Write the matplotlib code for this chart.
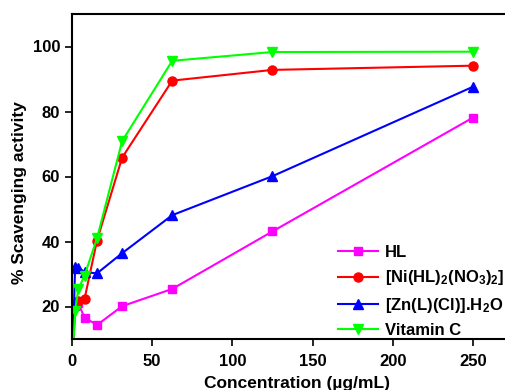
import numpy as np
import matplotlib
matplotlib.use('Agg')
import matplotlib.pyplot as plt

plt.rcParams['font.family'] = ['Liberation Sans', 'DejaVu Sans']
plt.rcParams['font.weight'] = 'bold'
plt.rcParams['mathtext.fontset'] = 'custom'
plt.rcParams['mathtext.rm'] = 'Liberation Sans:bold'
plt.rcParams['mathtext.bf'] = 'Liberation Sans:bold'
plt.rcParams['mathtext.default'] = 'bf'

# concentration (ug/mL)
conc = [0, 1.95, 3.9, 7.8, 15.6, 31.25, 62.5, 125, 250]

hl = [0, 20.3, 21.0, 16.6, 14.3, 20.1, 25.4, 43.1, 78.1]
ni = [0, 20.3, 21.8, 22.3, 40.3, 65.8, 89.5, 92.8, 94.1]
zn = [0, 32.2, 32.0, 30.6, 30.2, 36.4, 48.1, 60.1, 87.6]
vitc = [0, 18.6, 25.3, 29.5, 41.0, 70.9, 95.6, 98.3, 98.4]

labels = ['HL', '[Ni(HL)$_2$(NO$_3$)$_2$]', '[Zn(L)(Cl)].H$_2$O', 'Vitamin C']

fig = plt.figure(figsize=(5.05, 3.9), dpi=100)
ax = fig.add_axes([72 / 505, 51 / 390, 449 / 505, 325 / 390])

ax.plot(conc, hl, '-s', color='#ff00ff', lw=1.5, ms=6, label=labels[0])
ax.plot(conc, ni, '-o', color='#ff0000', lw=1.5, ms=6.5, label=labels[1])
ax.plot(conc, zn, '-^', color='#0000ff', lw=1.5, ms=7, label=labels[2])
ax.plot(conc, vitc, '-v', color='#00ff00', lw=1.5, ms=7, label=labels[3])

ax.set_xlim(0, 280)
ax.set_ylim(10, 110)
ax.set_xticks([0, 50, 100, 150, 200, 250])
ax.set_yticks([20, 40, 60, 80, 100])
ax.tick_params(direction='out', length=5, width=1.2, labelsize=12)
ax.tick_params(axis='x', pad=6)
for s in ax.spines.values():
    s.set_linewidth(1.5)

ax.set_xlabel('Concentration (µg/mL)', fontsize=12.5, fontweight='bold', labelpad=5)
ax.set_ylabel('% Scavenging activity', fontsize=12.5, fontweight='bold')
ax.yaxis.set_label_coords(-0.1, 0.45)

fig.legend(loc='upper left', bbox_to_anchor=(338 / 505, 1 - 245 / 390),
           frameon=False, fontsize=12, handlelength=2.4, labelspacing=0.5,
           handletextpad=0.4, borderaxespad=0, borderpad=0)

fig.savefig('out.png', dpi=100)
